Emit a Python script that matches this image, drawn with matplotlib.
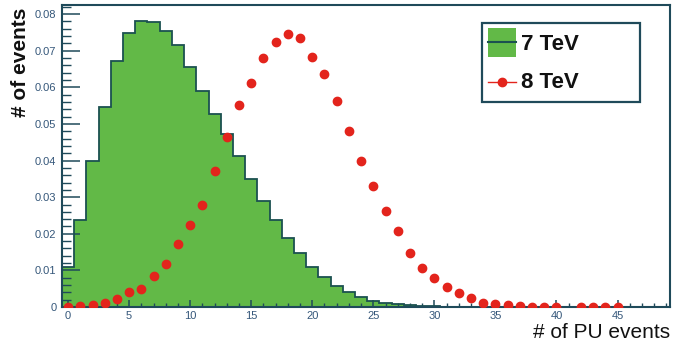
import numpy as np
import matplotlib
matplotlib.use("Agg")
import matplotlib.pyplot as plt
from matplotlib.patches import Rectangle
from matplotlib.lines import Line2D
from matplotlib.ticker import MultipleLocator, FixedLocator

# 7 TeV histogram (bins centred on integers 0..49)
hist_7tev = [0.0110, 0.0238, 0.0399, 0.0546, 0.0673, 0.0748, 0.0781, 0.0779, 0.0754, 0.0717,
             0.0655, 0.0591, 0.0528, 0.0473, 0.0412, 0.0349, 0.0290, 0.0238, 0.0188, 0.0147,
             0.0108, 0.0082, 0.0058, 0.0042, 0.0028, 0.0017, 0.0012, 0.0007, 0.0005, 0.0003,
             0.0002, 0.0001, 0, 0, 0, 0, 0, 0, 0, 0,
             0, 0, 0, 0, 0, 0, 0, 0, 0, 0]
bin_edges = np.arange(-0.5, 50.0, 1.0)

# 8 TeV points at PU = 0..45
pu_8tev = np.arange(0, 46)
val_8tev = [0.0001, 0.0002, 0.0006, 0.0011, 0.0022, 0.0040, 0.0050, 0.0084, 0.0118, 0.0172,
            0.0225, 0.0279, 0.0371, 0.0465, 0.0552, 0.0612, 0.0680, 0.0724, 0.0745, 0.0734,
            0.0682, 0.0636, 0.0563, 0.0481, 0.0400, 0.0331, 0.0263, 0.0208, 0.0148, 0.0107,
            0.0080, 0.0054, 0.0037, 0.0025, 0.0012, 0.0007, 0.0005, 0.0003, 0.0001, 0.00005,
            0.00003, np.nan, 0.00002, 0.00001, 0.00001, 0.00001]

labels = ["7 TeV", "8 TeV"]
xtick_vals = [0, 5, 10, 15, 20, 25, 30, 35, 40, 45]
ytick_vals = [0, 0.01, 0.02, 0.03, 0.04, 0.05, 0.06, 0.07, 0.08]

plt.rcParams['font.family'] = ['Liberation Sans', 'DejaVu Sans']

GREEN = "#62b947"
EDGE = "#1b5150"
RED = "#e3241c"
FRAME = "#1f4a5a"
TICKC = "#35577a"

W, H = 675, 345
fig = plt.figure(figsize=(W/100, H/100), dpi=100)
ax = fig.add_axes([62/W, 1-307/H, (670-62)/W, (307-5)/H])

ax.stairs(hist_7tev, bin_edges, fill=True, color=GREEN, zorder=1)
ax.stairs(hist_7tev, bin_edges, fill=False, color=EDGE, linewidth=1.3, zorder=2)
ax.plot(pu_8tev, val_8tev, linestyle='none', marker='o', ms=6, color=RED,
        markeredgecolor=RED, zorder=3)

ax.set_xlim(-0.5, 49.3)
ax.set_ylim(0, 0.0825)

ax.xaxis.set_major_locator(FixedLocator(xtick_vals))
ax.xaxis.set_minor_locator(MultipleLocator(1))
ax.yaxis.set_major_locator(FixedLocator(ytick_vals))
ax.yaxis.set_minor_locator(MultipleLocator(0.002))
ax.set_xticklabels([str(v) for v in xtick_vals])
ax.set_yticklabels(["0" if v == 0 else f"{v:.2f}" for v in ytick_vals])

ax.tick_params(axis='y', which='major', direction='in', length=13, width=1.1, color=FRAME,
               labelsize=8, labelcolor=TICKC, pad=4)
ax.tick_params(axis='y', which='minor', direction='in', length=6.5, width=1.0, color=FRAME)
ax.tick_params(axis='x', which='major', direction='in', length=5, width=1.1, color=FRAME,
               labelsize=8, labelcolor=TICKC, pad=3)
ax.tick_params(axis='x', which='minor', direction='in', length=3, width=1.0, color=FRAME)
ax.tick_params(top=False, right=False)

for sp in ax.spines.values():
    sp.set_color(FRAME)
    sp.set_linewidth(1.5)

fig.text(670/W, 1-333/H, "# of PU events", ha='right', va='center', fontsize=15,
         color='#111111')
fig.text(21/W, 1-8/H, "# of events", ha='center', va='top', rotation=90, fontsize=15,
         fontweight='bold', color='#111111')

# Legend drawn in figure pixel coordinates (ROOT-style TLegend)
def fx(px):
    return px / W

def fy(py):
    return 1 - py / H

T = fig.transFigure
ax.add_artist(Rectangle((fx(481.7), fy(101.7)), fx(640) - fx(481.7), fy(22.7) - fy(101.7),
                        transform=T, facecolor='white', edgecolor=FRAME, linewidth=1.6,
                        zorder=5, clip_on=False))
ax.add_artist(Rectangle((fx(487.7), fy(57)), fx(515.7) - fx(487.7), fy(28) - fy(57),
                        transform=T, facecolor=GREEN, edgecolor='none', zorder=6,
                        clip_on=False))
ax.add_artist(Line2D([fx(487.7), fx(515.7)], [fy(42.3), fy(42.3)], transform=T,
                     color=EDGE, linewidth=1.5, zorder=7, clip_on=False))
ax.add_artist(Line2D([fx(487.7), fx(515.7)], [fy(81.7), fy(81.7)], transform=T,
                     color=RED, linewidth=1.0, zorder=6, clip_on=False))
ax.add_artist(Line2D([fx(501.7)], [fy(81.7)], transform=T, linestyle='none', marker='o',
                     ms=6, color=RED, zorder=7, clip_on=False))
fig.text(fx(521), fy(44), labels[0], ha='left', va='center', fontsize=16,
         fontweight='bold', color='#111111', zorder=8)
fig.text(fx(521), fy(82.5), labels[1], ha='left', va='center', fontsize=16,
         fontweight='bold', color='#111111', zorder=8)

fig.savefig("out.png", dpi=100)
